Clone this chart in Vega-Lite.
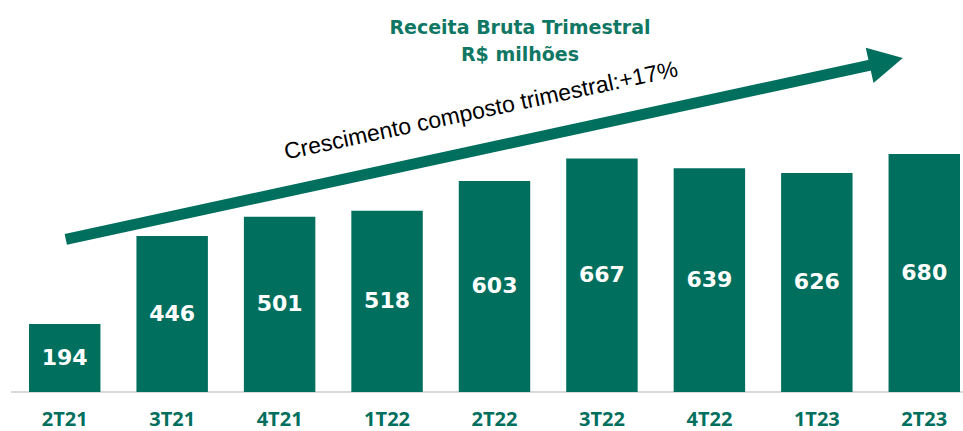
{
  "$schema": "https://vega.github.io/schema/vega-lite/v6.json",
  "width": 952,
  "height": 392,
  "autosize": {"type": "none"},
  "padding": {"left": 11, "top": 0, "right": 0, "bottom": 39},
  "background": "white",
  "config": {"view": {"stroke": null}},
  "title": {
    "text": ["Receita Bruta Trimestral", "R$ milhões"],
    "font": "DejaVu Sans",
    "fontSize": 19,
    "fontWeight": 700,
    "color": "#0F7763",
    "lineHeight": 27,
    "anchor": "middle",
    "dx": 33,
    "offset": -65
  },
  "datasets": {
    "receita": [
      {"trimestre": "2T21", "valor": 194},
      {"trimestre": "3T21", "valor": 446},
      {"trimestre": "4T21", "valor": 501},
      {"trimestre": "1T22", "valor": 518},
      {"trimestre": "2T22", "valor": 603},
      {"trimestre": "3T22", "valor": 667},
      {"trimestre": "4T22", "valor": 639},
      {"trimestre": "1T23", "valor": 626},
      {"trimestre": "2T23", "valor": 680}
    ],
    "seta": [{"x0": 0.01, "y0": 436, "x1": 7.54, "y1": 937}],
    "ponta": [{"x": 7.646, "y": 943.6}],
    "nota": [{"x": 3.875, "y": 803, "texto": "Crescimento composto trimestral:+17%"}]
  },
  "layer": [
    {
      "data": {"name": "receita"},
      "mark": {"type": "rule", "color": "#D9D9D9", "strokeWidth": 2},
      "encoding": {
        "y": {"datum": 0, "type": "quantitative", "scale": {"domain": [0, 1120], "nice": false}, "axis": null}
      }
    },
    {
      "data": {"name": "receita"},
      "mark": {"type": "bar", "color": "#006F5E"},
      "encoding": {
        "x": {
          "field": "trimestre",
          "type": "nominal",
          "sort": null,
          "scale": {"type": "band", "range": [18, 949], "paddingInner": 0.335, "paddingOuter": 0},
          "axis": {
            "title": null,
            "domain": false,
            "ticks": false,
            "labelAngle": 0,
            "labelFont": "Open Sans",
            "labelFontSize": 20,
            "labelFontWeight": 700,
            "labelColor": "#006F5E",
            "labelPadding": 17
          }
        },
        "y": {"field": "valor", "type": "quantitative", "scale": {"domain": [0, 1120], "nice": false}, "axis": null}
      }
    },
    {
      "data": {"name": "receita"},
      "mark": {"type": "text", "color": "white", "font": "DejaVu Sans", "fontSize": 22, "fontWeight": 700, "align": "center", "baseline": "middle"},
      "encoding": {
        "x": {
          "field": "trimestre",
          "type": "nominal",
          "sort": null,
          "bandPosition": 0.5,
          "scale": {"type": "band", "range": [18, 949], "paddingInner": 0.335, "paddingOuter": 0},
          "axis": null
        },
        "y": {"field": "valor", "type": "quantitative", "scale": {"domain": [0, 2240], "nice": false}, "axis": null},
        "text": {"field": "valor", "type": "quantitative"}
      }
    },
    {
      "data": {"name": "seta"},
      "mark": {"type": "rule", "color": "#006F5E", "strokeWidth": 11, "strokeCap": "butt"},
      "encoding": {
        "x": {"field": "x0", "type": "quantitative", "scale": {"domain": [-0.5, 8.3606], "nice": false, "zero": false}, "axis": null},
        "x2": {"field": "x1"},
        "y": {"field": "y0", "type": "quantitative", "scale": {"domain": [0, 1120], "nice": false}, "axis": null},
        "y2": {"field": "y1"}
      }
    },
    {
      "data": {"name": "ponta"},
      "mark": {"type": "point", "shape": "M-1,-1.06L1,0L-1,1.06Z", "size": 1156, "angle": -12.4, "filled": true, "opacity": 1, "color": "#006F5E", "strokeWidth": 0},
      "encoding": {
        "x": {"field": "x", "type": "quantitative", "scale": {"domain": [-0.5, 8.3606], "nice": false, "zero": false}, "axis": null},
        "y": {"field": "y", "type": "quantitative", "scale": {"domain": [0, 1120], "nice": false}, "axis": null}
      }
    },
    {
      "data": {"name": "nota"},
      "mark": {"type": "text", "color": "black", "font": "Liberation Sans", "fontSize": 23, "angle": -12, "align": "center", "baseline": "middle"},
      "encoding": {
        "x": {"field": "x", "type": "quantitative", "scale": {"domain": [-0.5, 8.3606], "nice": false, "zero": false}, "axis": null},
        "y": {"field": "y", "type": "quantitative", "scale": {"domain": [0, 1120], "nice": false}, "axis": null},
        "text": {"field": "texto", "type": "nominal"}
      }
    }
  ],
  "resolve": {"scale": {"x": "independent", "y": "independent"}}
}
